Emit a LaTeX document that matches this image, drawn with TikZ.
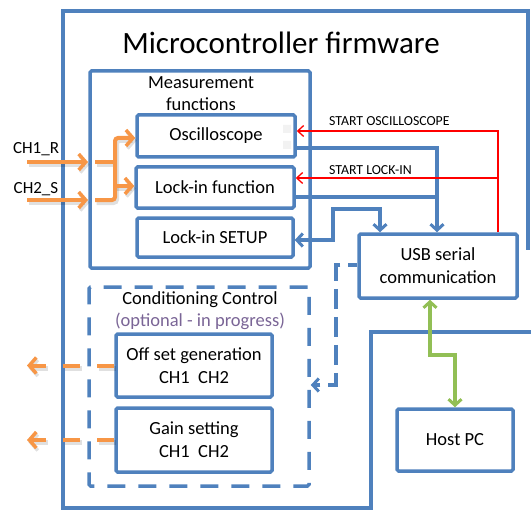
\documentclass[tikz,border=0pt]{standalone}
\usepackage{fontspec}
\setmainfont{Carlito}
\usetikzlibrary{arrows.meta}
\definecolor{fwblue}{HTML}{4F81BD}
\definecolor{sigorange}{HTML}{F79646}
\definecolor{linkgreen}{HTML}{92BF55}
\definecolor{notepurple}{HTML}{7A6596}
\definecolor{cmdred}{HTML}{FF0000}
\begin{document}
\begin{tikzpicture}[x=1pt,y=-1pt,
  barbtip/.tip={Straight Barb[length=6pt, width=13pt, line width=3pt]},
  redtip/.tip={Straight Barb[length=6pt, width=11pt]},
  orangebarb/.tip={Straight Barb[length=7pt, width=16pt, line width=3.5pt]},
  box/.style={draw=fwblue, line width=3.5pt, rounded corners=1.5pt, fill=white,
    inner sep=0pt, align=center, font=\fontsize{18.5}{23}\selectfont},
  group/.style={draw=fwblue, line width=3.5pt, rounded corners=1.5pt, inner sep=0pt},
  dashgroup/.style={group, dash pattern=on 18pt off 13pt},
  lbl/.style={inner sep=0pt, align=center, font=\fontsize{18.5}{22}\selectfont},
  cmdlbl/.style={inner sep=0pt, anchor=west, font=\fontsize{13.8}{15}\selectfont},
  bluelink/.style={draw=fwblue, line width=3.5pt},
  cmdlink/.style={draw=cmdred, line width=1.3pt, -{redtip}},
  orangelink/.style={draw=sigorange, line width=4pt,
    preaction={draw=black, opacity=0.12, line width=5pt, transform canvas={shift={(1.5pt,-2.5pt)}}}},
  orangedash/.style={draw=sigorange, line width=4pt, dash pattern=on 17pt off 17pt,
    preaction={draw=black, opacity=0.12, line width=5pt, dash pattern=on 17pt off 17pt,
      transform canvas={shift={(1.5pt,-2.5pt)}}}},
  orangetip/.style={-{orangebarb}},
  greenlink/.style={draw=linkgreen, line width=3.5pt, {barbtip}-{barbtip}},
]
\useasboundingbox (0,0) rectangle (531,511);

% firmware outline, open towards the host PC corner
\draw[bluelink] (531,332) -- (371,332) -- (371,508) -- (63,508) -- (63,11) -- (528,11) -- (528,250);
\node[font=\fontsize{31}{36}\selectfont, inner sep=0pt] (title) at (281,43) {Microcontroller firmware};

% measurement group
\node[group, minimum width=220pt, minimum height=197pt] (meas) at (200,169.5) {};
\node[lbl] (measlbl) at (201,94) {Measurement\\functions};
\node[box, minimum width=158pt, minimum height=42pt] (osc) at (216,136) {Oscilloscope};
\node[box, minimum width=158pt, minimum height=41pt] (lockin) at (215,187.5) {Lock-in function};
\node[box, minimum width=156pt, minimum height=39pt] (setup) at (215,237.5) {Lock-in SETUP};
\fill[gray!10] (283,125) rectangle (291,133) (283,141) rectangle (291,149);

% conditioning group
\node[dashgroup, minimum width=220pt, minimum height=199pt] (cond) at (199,386.5) {};
\node[lbl] (condlbl) at (200,300) {Conditioning Control};
\node[lbl, text=notepurple] (condnote) at (200,321) {(optional - in progress)};
\node[box, minimum width=156pt, minimum height=63pt] (offset) at (194,365.5) {Off set generation\\CH1\ \ CH2};
\node[box, minimum width=156pt, minimum height=64pt] (gain) at (194,440) {Gain setting\\CH1\ \ CH2};

% communication and host
\node[box, minimum width=158pt, minimum height=64pt] (usb) at (438,266) {USB serial\\communication};
\node[box, minimum width=116pt, minimum height=62pt] (host) at (455,440) {Host PC};

% measurement results to the USB link
\coordinate (bus) at (437,197);
\draw[bluelink, -{barbtip}] (osc.east |- 0,148) -| (usb.north -| bus);
\draw[bluelink] (lockin.east |- 0,197) -- (bus);
% setup exchange
\draw[bluelink, {barbtip}-{barbtip}] (setup.east |- 0,240) -| (333,209) -| (usb.north -| 380,0);
% control of the conditioning stage
\draw[bluelink, dash pattern=on 20pt off 8pt, dash phase=-17pt, -{barbtip}] (usb.west |- 0,265) -| (336,385) -- (cond.east |- 0,385);

% start commands
\coordinate (cmdsplit) at (498,178);
\draw[cmdlink] (usb.north -| cmdsplit) |- (osc.east |- 0,131);
\draw[cmdlink] (cmdsplit) -- (lockin.east |- cmdsplit);
\node[cmdlbl] (cmdosc) at (329,121) {START OSCILLOSCOPE};
\node[cmdlbl] (cmdlock) at (329,170) {START LOCK-IN};

% host link
\draw[greenlink] (usb.south -| 430,0) |- (455,355) -- (host.north);

% analogue inputs
\node[lbl, font=\fontsize{17}{20}\selectfont] (ch1) at (36,149) {CH1\_R};
\node[lbl, font=\fontsize{17}{20}\selectfont] (ch2) at (36,189) {CH2\_S};
\coordinate (in1) at (27,162);
\coordinate (in2) at (27,200);
\draw[orangelink, orangetip] (in1) -- (88,162);
\draw[orangelink, orangetip] (in2) -- (88,200);
\draw[orangelink] (95,162) -- (115,162);
\draw[orangelink, orangetip, rounded corners=3pt] (95,200) -| (115,138) -- (osc.west |- 0,138);
\draw[orangelink, orangetip] (115,186) -- (lockin.west |- 0,186);

% conditioning outputs
\coordinate (out1) at (27,365.5);
\coordinate (out2) at (27,440);
\draw[orangedash, orangetip] (offset.west) -- (out1);
\draw[orangedash, orangetip] (gain.west) -- (out2);
\end{tikzpicture}
\end{document}
